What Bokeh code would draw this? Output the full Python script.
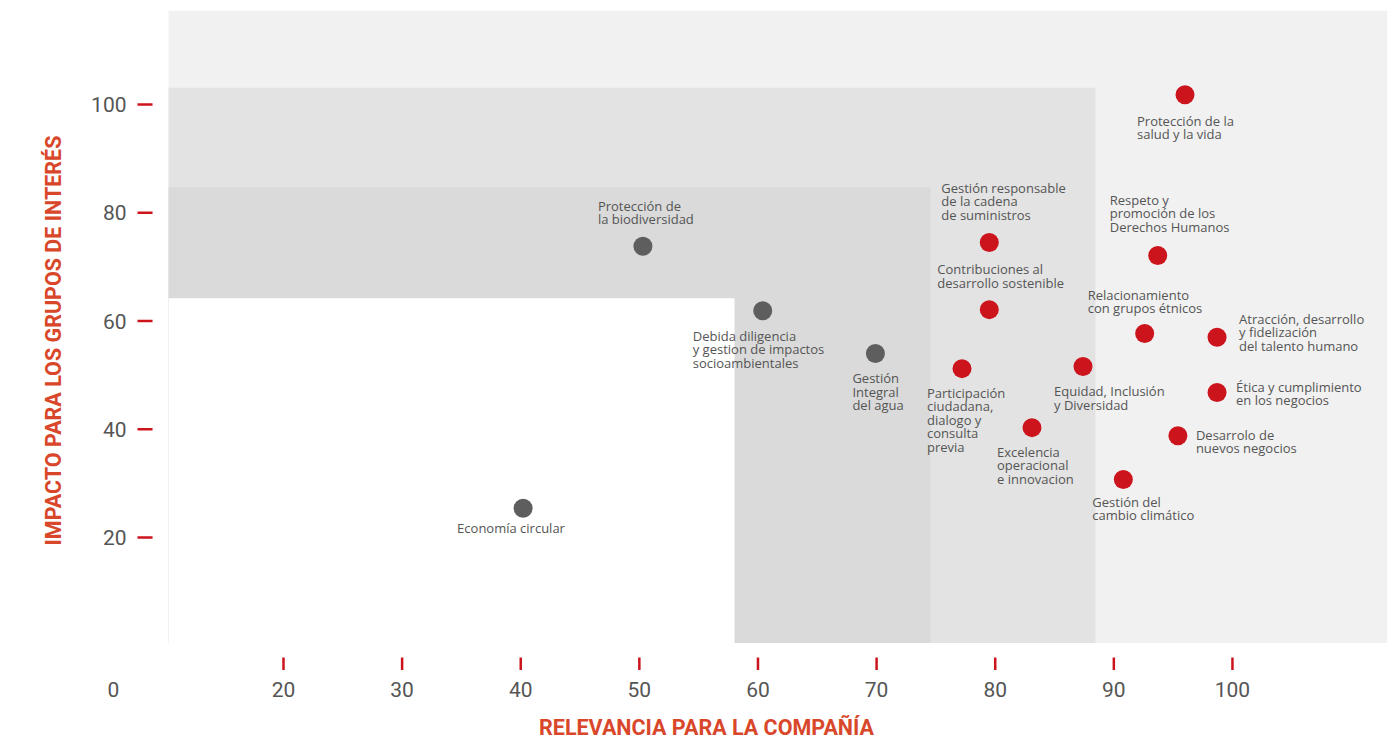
from bokeh.plotting import figure
from bokeh.models import ColumnDataSource, FixedTicker, LinearAxis, Range1d
from bokeh.embed import file_html
from bokeh.resources import INLINE
from bokeh.core.properties import value

# ---------------- data ----------------
temas = [
    "Protección de la\nsalud y la vida",
    "Gestión responsable\nde la cadena\nde suministros",
    "Respeto y\npromoción de los\nDerechos Humanos",
    "Contribuciones al\ndesarrollo sostenible",
    "Relacionamiento\ncon grupos étnicos",
    "Atracción, desarrollo\ny fidelización\ndel talento humano",
    "Ética y cumplimiento\nen los negocios",
    "Desarrolo de\nnuevos negocios",
    "Participación\nciudadana,\ndialogo y\nconsulta\nprevia",
    "Equidad, Inclusión\ny Diversidad",
    "Excelencia\noperacional\ne innovacion",
    "Gestión del\ncambio climático",
    "Protección de\nla biodiversidad",
    "Debida diligencia\ny gestion de impactos\nsocioambientales",
    "Gestión\nIntegral\ndel agua",
    "Economía circular",
]
relevancia = [96.0, 79.5, 93.7, 79.5, 92.6, 98.7, 98.7, 95.4, 77.2, 87.4, 83.1, 90.8, 50.3, 60.4, 69.9, 40.2]
impacto = [101.8, 74.5, 72.1, 62.1, 57.7, 57.0, 46.8, 38.8, 51.2, 51.6, 40.3, 30.7, 73.8, 61.9, 54.0, 25.4]
material = [True] * 12 + [False] * 4

x_ticks = [20, 30, 40, 50, 60, 70, 80, 90, 100]
y_ticks = [20, 40, 60, 80, 100]
origen_label = "0"
x_title = "RELEVANCIA PARA LA COMPAÑÍA"
y_title = "IMPACTO PARA LOS GRUPOS DE INTERÉS"

# background zones (outer -> inner)
zona_izq = 10.31
zona_base = 0.5
zona_der = [113.07, 88.45, 74.54, 58.02]
zona_sup = [117.37, 103.1, 84.7, 64.2]

# ---------------- styles / layout ----------------
zona_colores = ["#f1f1f1", "#e3e3e3", "#dadada", "#ffffff"]
ROJO = "#cc141d"
GRIS_PUNTO = "#5e5e5e"
TEXTO = "#555555"
TITULO = "#d9472b"

X_RANGE = (4.573, 113.07)
Y_RANGE = (-4.573, 117.37)
ORIGEN_X = 5.67            # where the lone "0" sits, left of the y axis
TITULO_X = 55.66           # centre of the x title
X_TICK_SPAN = (-2.17, -4.5)   # vertical extent of the red x tick marks
Y_TICK_SPAN = (7.69, 8.96)    # horizontal extent of the red y tick marks

lab_dx = [-48, -48, -48, -52, -57, 22, 19, 18, -35, -29, -35, -31, -45, -70, -23, -66]
lab_dy = [17, -19, -20, -18, -16, -5, 1, 6, 15, 16, 15, 13, -18, 16, 16, 11]
lab_base = ["top", "bottom", "bottom", "bottom", "bottom", "middle", "middle", "middle",
            "top", "top", "top", "top", "bottom", "top", "top", "top"]

p = figure(width=1389, height=748,
           x_range=Range1d(*X_RANGE), y_range=Range1d(*Y_RANGE),
           output_backend="svg", toolbar_location=None,
           min_border_left=100, min_border_right=2, min_border_top=10, min_border_bottom=78)
p.outline_line_color = None
p.grid.visible = False
p.background_fill_color = "white"
p.border_fill_color = "white"

for der, sup, col in zip(zona_der, zona_sup, zona_colores):
    p.quad(left=zona_izq, right=der, bottom=zona_base, top=sup,
           fill_color=col, line_color=None)

# red tick marks
p.segment(x0=x_ticks, x1=x_ticks, y0=[X_TICK_SPAN[0]] * len(x_ticks),
          y1=[X_TICK_SPAN[1]] * len(x_ticks), line_color=ROJO, line_width=2.5)
p.segment(x0=[Y_TICK_SPAN[0]] * len(y_ticks), x1=[Y_TICK_SPAN[1]] * len(y_ticks),
          y0=y_ticks, y1=y_ticks, line_color=ROJO, line_width=2.5)

src = ColumnDataSource(dict(
    x=relevancia, y=impacto, t=temas,
    c=[ROJO if m else GRIS_PUNTO for m in material],
    dx=lab_dx, dy=lab_dy, b=lab_base,
))
p.scatter("x", "y", source=src, size=19, fill_color="c", line_color=None)
p.text("x", "y", text="t", source=src, x_offset="dx", y_offset="dy",
       text_baseline="b", text_align="left",
       text_font=value("Open Sans"), text_font_size="13px",
       text_color=TEXTO, text_line_height=0.75)

def style_axis(ax):
    ax.axis_line_color = None
    ax.major_tick_line_color = None
    ax.minor_tick_line_color = None
    ax.major_tick_in = 0
    ax.major_tick_out = 0
    ax.major_label_text_font = "Roboto"
    ax.major_label_text_font_size = "21px"
    ax.major_label_text_color = TEXTO

xa = p.xaxis[0]
style_axis(xa)
xa.ticker = FixedTicker(ticks=[ORIGEN_X] + x_ticks)
xa.major_label_overrides = {ORIGEN_X: origen_label}
xa.major_label_standoff = 11

ya = p.yaxis[0]
style_axis(ya)
ya.ticker = FixedTicker(ticks=y_ticks)
ya.major_label_standoff = -26
ya.axis_label = y_title
ya.axis_label_text_font = "Roboto"
ya.axis_label_text_font_style = "bold"
ya.axis_label_text_font_size = "21.5px"
ya.axis_label_text_color = TITULO
ya.axis_label_standoff = 22

# x title as a second axis below, so it can sit where the reference has it
xt = LinearAxis(ticker=FixedTicker(ticks=[TITULO_X]),
                major_label_overrides={TITULO_X: x_title})
style_axis(xt)
xt.major_label_text_font_style = "bold"
xt.major_label_text_font_size = "21.5px"
xt.major_label_text_color = TITULO
xt.major_label_standoff = 15
p.add_layout(xt, "below")

open("out.html", "w").write(file_html(p, INLINE))
